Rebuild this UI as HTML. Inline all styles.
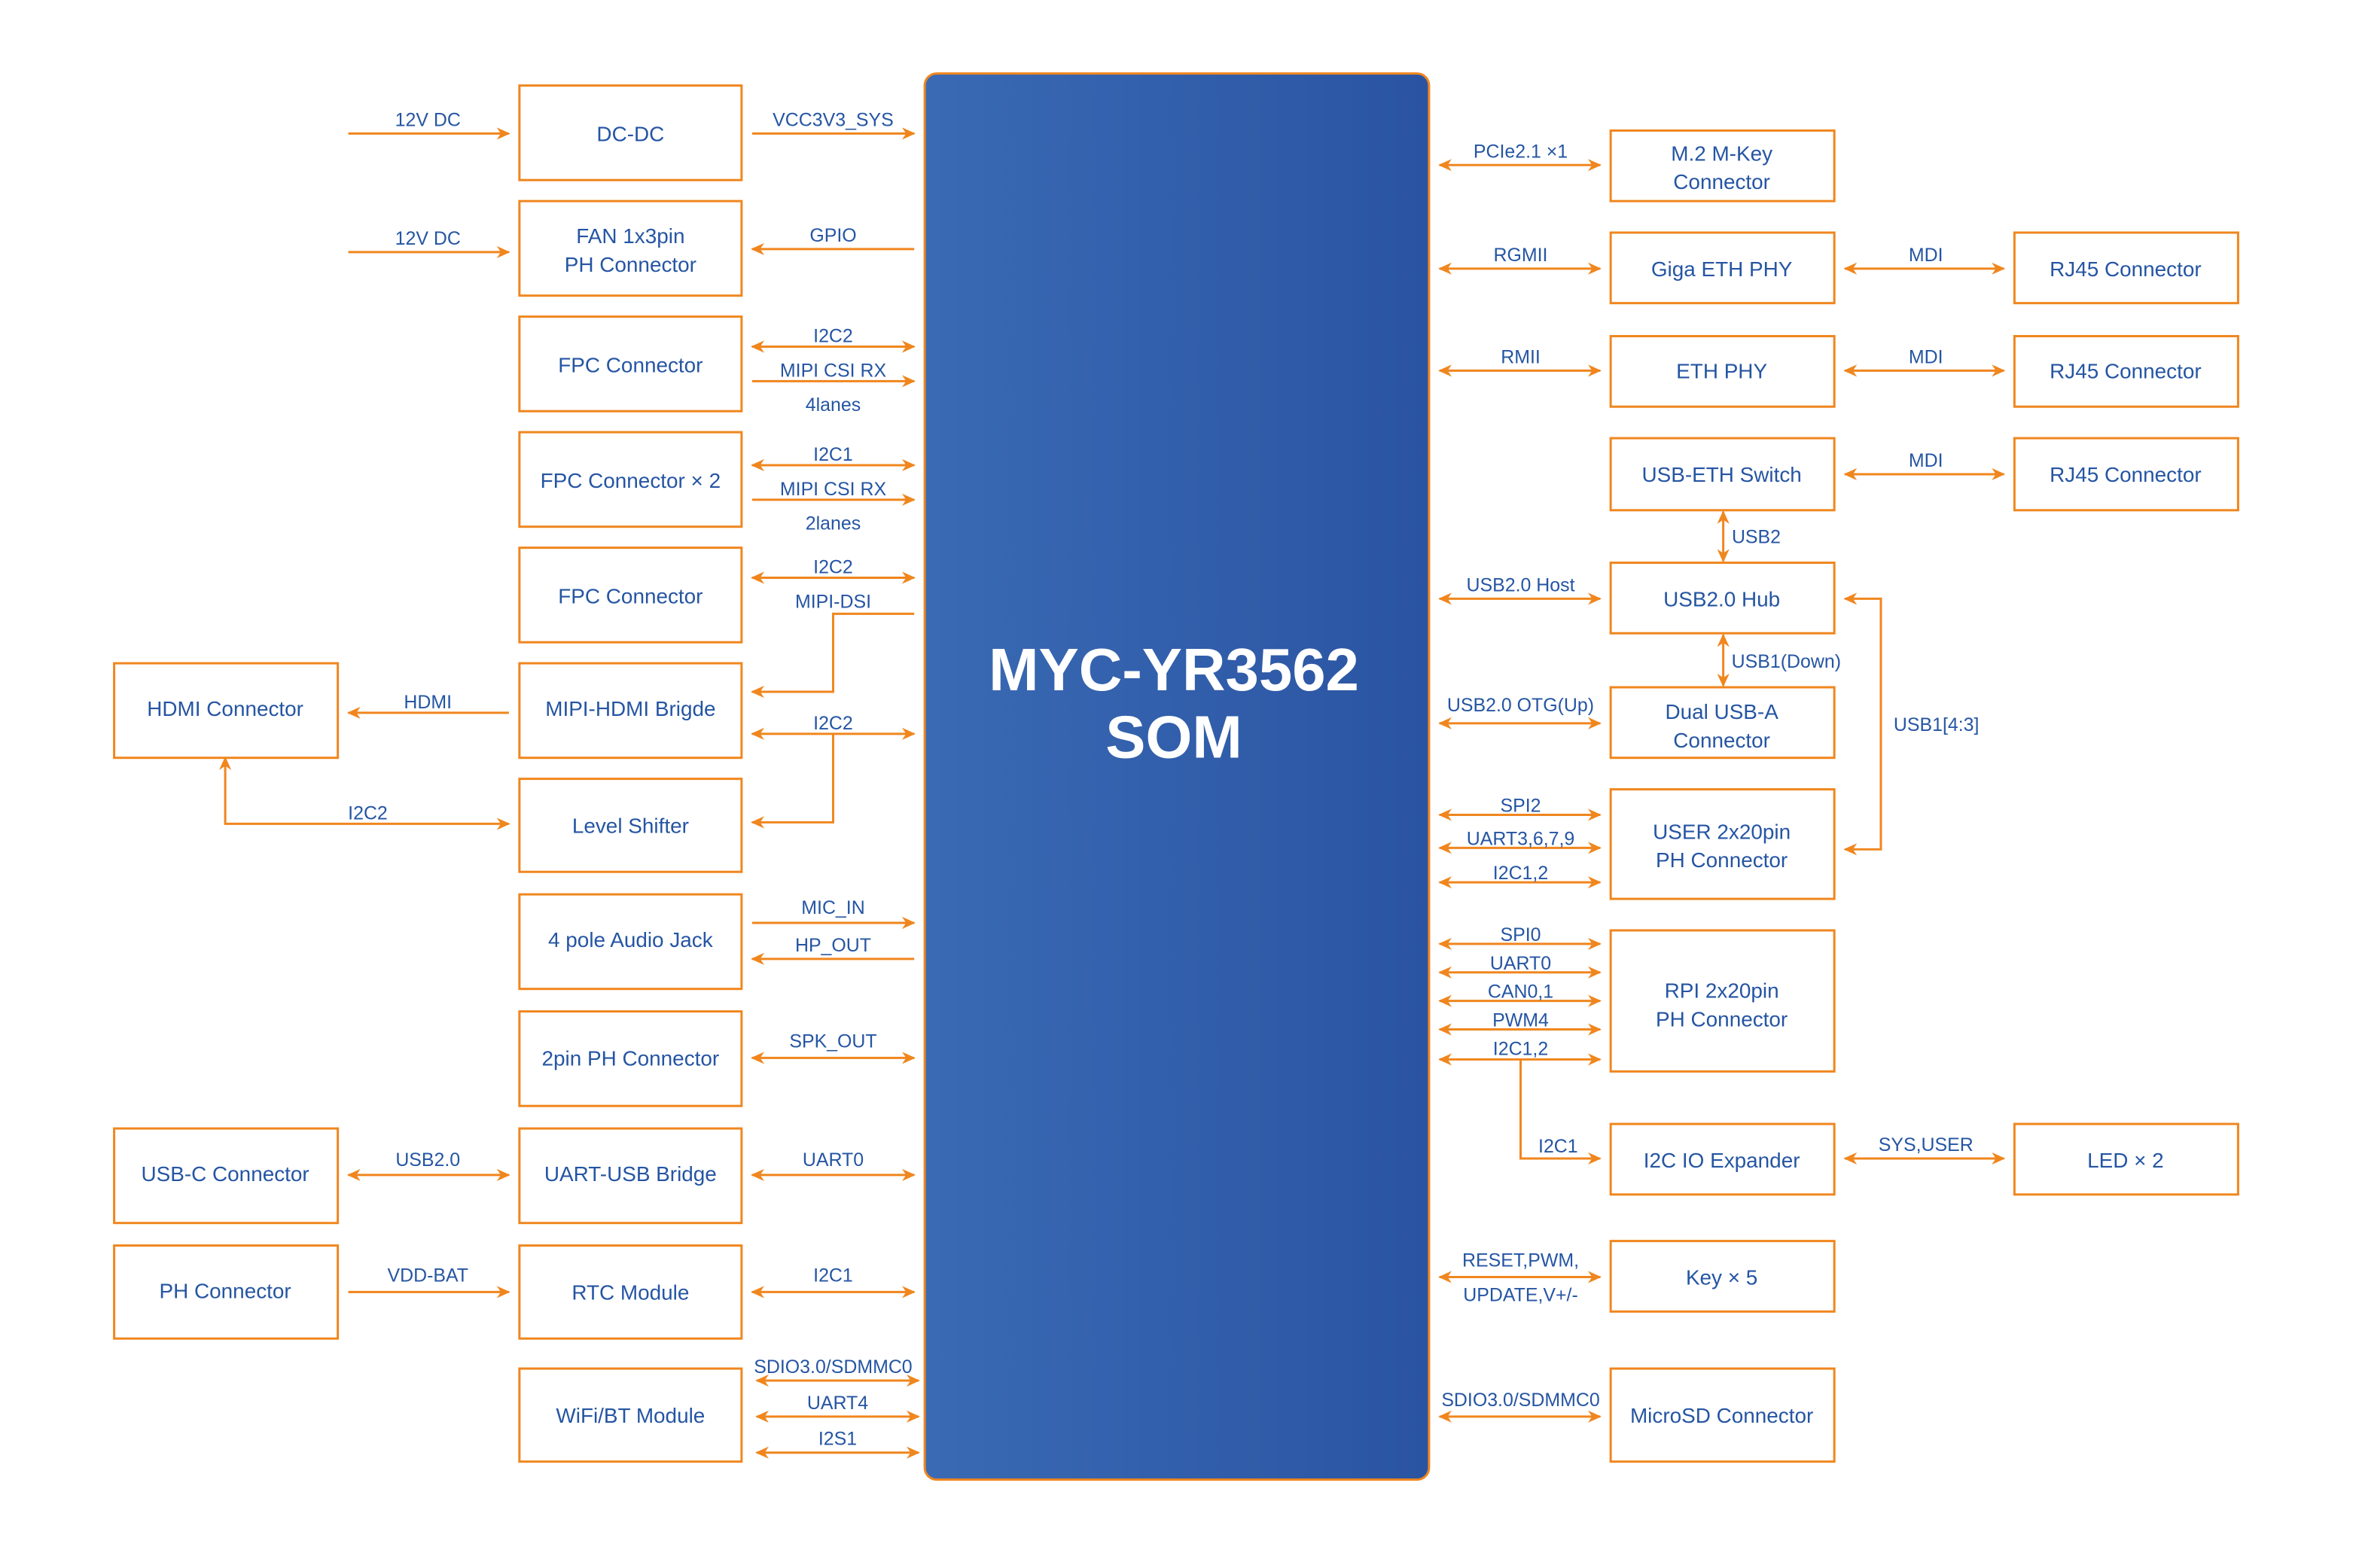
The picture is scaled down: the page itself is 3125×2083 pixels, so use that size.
<!DOCTYPE html>
<html><head><meta charset="utf-8"><style>
html,body{margin:0;padding:0;background:#fff;}
svg{display:block;}
text{font-family:"Liberation Sans",sans-serif;fill:#2555a3;text-anchor:middle;}
.l{font-size:12.5px;}
.b{font-size:14px;}
.box{fill:#fff;stroke:#f0861e;stroke-width:1.5;}
.w{stroke:#f0861e;stroke-width:1.5;fill:none;}
</style></head><body>
<svg width="3125" height="2083" viewBox="0 0 1567.5 1044.9" xmlns="http://www.w3.org/2000/svg">
<defs>
<marker id="a" viewBox="0 0 10 10" refX="9" refY="5" markerWidth="9" markerHeight="9" orient="auto-start-reverse" markerUnits="userSpaceOnUse"><path d="M0,0.5 L10,5 L0,9.5 L3,5 z" fill="#f0861e"/></marker>
<linearGradient id="g" x1="0" y1="0" x2="1" y2="0"><stop offset="0" stop-color="#3a6ab4"/><stop offset="1" stop-color="#2a54a2"/></linearGradient>
</defs>
<rect x="616" y="49" width="336" height="937" rx="8" fill="url(#g)" stroke="#f0861e" stroke-width="1.5"/>
<text x="782" y="460" style="font-size:40px;font-weight:bold;fill:#fff">MYC-YR3562</text>
<text x="782" y="505" style="font-size:40px;font-weight:bold;fill:#fff">SOM</text>

<g class="b">
<rect class="box" x="346" y="57" width="148" height="63"/><text x="420" y="94">DC-DC</text>
<rect class="box" x="346" y="134" width="148" height="63"/><text x="420" y="162">FAN 1x3pin</text><text x="420" y="181">PH Connector</text>
<rect class="box" x="346" y="211" width="148" height="63"/><text x="420" y="248">FPC Connector</text>
<rect class="box" x="346" y="288" width="148" height="63"/><text x="420" y="325">FPC Connector × 2</text>
<rect class="box" x="346" y="365" width="148" height="63"/><text x="420" y="402">FPC Connector</text>
<rect class="box" x="346" y="442" width="148" height="63"/><text x="420" y="477">MIPI-HDMI Brigde</text>
<rect class="box" x="346" y="519" width="148" height="62"/><text x="420" y="555">Level Shifter</text>
<rect class="box" x="346" y="596" width="148" height="63"/><text x="420" y="631">4 pole Audio Jack</text>
<rect class="box" x="346" y="674" width="148" height="63"/><text x="420" y="710">2pin PH Connector</text>
<rect class="box" x="346" y="752" width="148" height="63"/><text x="420" y="787">UART-USB Bridge</text>
<rect class="box" x="346" y="830" width="148" height="62"/><text x="420" y="866">RTC Module</text>
<rect class="box" x="346" y="912" width="148" height="62"/><text x="420" y="948">WiFi/BT Module</text>
<rect class="box" x="76" y="442" width="149" height="63"/><text x="150" y="477">HDMI Connector</text>
<rect class="box" x="76" y="752" width="149" height="63"/><text x="150" y="787">USB-C Connector</text>
<rect class="box" x="76" y="830" width="149" height="62"/><text x="150" y="865">PH Connector</text>
<rect class="box" x="1073" y="87" width="149" height="47"/><text x="1147" y="107">M.2 M-Key</text><text x="1147" y="126">Connector</text>
<rect class="box" x="1073" y="155" width="149" height="47"/><text x="1147" y="184">Giga ETH PHY</text>
<rect class="box" x="1073" y="224" width="149" height="47"/><text x="1147" y="252">ETH PHY</text>
<rect class="box" x="1073" y="292" width="149" height="48"/><text x="1147" y="321">USB-ETH Switch</text>
<rect class="box" x="1073" y="375" width="149" height="47"/><text x="1147" y="404">USB2.0 Hub</text>
<rect class="box" x="1073" y="458" width="149" height="47"/><text x="1147" y="479">Dual USB-A</text><text x="1147" y="498">Connector</text>
<rect class="box" x="1073" y="526" width="149" height="73"/><text x="1147" y="559">USER 2x20pin</text><text x="1147" y="578">PH Connector</text>
<rect class="box" x="1073" y="620" width="149" height="94"/><text x="1147" y="665">RPI 2x20pin</text><text x="1147" y="684">PH Connector</text>
<rect class="box" x="1073" y="749" width="149" height="47"/><text x="1147" y="778">I2C IO Expander</text>
<rect class="box" x="1073" y="827" width="149" height="47"/><text x="1147" y="856">Key × 5</text>
<rect class="box" x="1073" y="912" width="149" height="62"/><text x="1147" y="948">MicroSD Connector</text>
<rect class="box" x="1342" y="155" width="149" height="47"/><text x="1416" y="184">RJ45 Connector</text>
<rect class="box" x="1342" y="224" width="149" height="47"/><text x="1416" y="252">RJ45 Connector</text>
<rect class="box" x="1342" y="292" width="149" height="48"/><text x="1416" y="321">RJ45 Connector</text>
<rect class="box" x="1342" y="749" width="149" height="47"/><text x="1416" y="778">LED × 2</text>
</g>

<g class="w">
<path d="M232,89H339" marker-end="url(#a)"/>
<path d="M501,89H609" marker-end="url(#a)"/>
<path d="M232,168H339" marker-end="url(#a)"/>
<path d="M609,166H501" marker-end="url(#a)"/>
<path d="M501,231H609" marker-start="url(#a)" marker-end="url(#a)"/>
<path d="M501,254H609" marker-end="url(#a)"/>
<path d="M501,310H609" marker-start="url(#a)" marker-end="url(#a)"/>
<path d="M501,333H609" marker-end="url(#a)"/>
<path d="M501,385H609" marker-start="url(#a)" marker-end="url(#a)"/>
<path d="M609,409H555V461H501" marker-end="url(#a)"/>
<path d="M339,475H232" marker-end="url(#a)"/>
<path d="M501,489H609" marker-start="url(#a)" marker-end="url(#a)"/>
<path d="M555,489V548H501" marker-end="url(#a)"/>
<path d="M150,505V549H339" marker-start="url(#a)" marker-end="url(#a)"/>
<path d="M501,615H609" marker-end="url(#a)"/>
<path d="M609,639H501" marker-end="url(#a)"/>
<path d="M501,705H609" marker-start="url(#a)" marker-end="url(#a)"/>
<path d="M232,783H339" marker-start="url(#a)" marker-end="url(#a)"/>
<path d="M501,783H609" marker-start="url(#a)" marker-end="url(#a)"/>
<path d="M232,861H339" marker-end="url(#a)"/>
<path d="M501,861H609" marker-start="url(#a)" marker-end="url(#a)"/>
<path d="M504,920H612" marker-start="url(#a)" marker-end="url(#a)"/>
<path d="M504,944H612" marker-start="url(#a)" marker-end="url(#a)"/>
<path d="M504,968H612" marker-start="url(#a)" marker-end="url(#a)"/>
<path d="M959,110H1066" marker-start="url(#a)" marker-end="url(#a)"/>
<path d="M959,179H1066" marker-start="url(#a)" marker-end="url(#a)"/>
<path d="M1229,179H1335" marker-start="url(#a)" marker-end="url(#a)"/>
<path d="M959,247H1066" marker-start="url(#a)" marker-end="url(#a)"/>
<path d="M1229,247H1335" marker-start="url(#a)" marker-end="url(#a)"/>
<path d="M1229,316H1335" marker-start="url(#a)" marker-end="url(#a)"/>
<path d="M1148,341V374" marker-start="url(#a)" marker-end="url(#a)"/>
<path d="M959,399H1066" marker-start="url(#a)" marker-end="url(#a)"/>
<path d="M1148,423V457" marker-start="url(#a)" marker-end="url(#a)"/>
<path d="M959,482H1066" marker-start="url(#a)" marker-end="url(#a)"/>
<path d="M1229,399H1253V566H1229" marker-start="url(#a)" marker-end="url(#a)"/>
<path d="M959,543H1066" marker-start="url(#a)" marker-end="url(#a)"/>
<path d="M959,565H1066" marker-start="url(#a)" marker-end="url(#a)"/>
<path d="M959,588H1066" marker-start="url(#a)" marker-end="url(#a)"/>
<path d="M959,629H1066" marker-start="url(#a)" marker-end="url(#a)"/>
<path d="M959,648H1066" marker-start="url(#a)" marker-end="url(#a)"/>
<path d="M959,667H1066" marker-start="url(#a)" marker-end="url(#a)"/>
<path d="M959,686H1066" marker-start="url(#a)" marker-end="url(#a)"/>
<path d="M959,706H1066" marker-start="url(#a)" marker-end="url(#a)"/>
<path d="M1013,706V772H1066" marker-end="url(#a)"/>
<path d="M1229,772H1335" marker-start="url(#a)" marker-end="url(#a)"/>
<path d="M959,851H1066" marker-start="url(#a)" marker-end="url(#a)"/>
<path d="M959,944H1066" marker-start="url(#a)" marker-end="url(#a)"/>
</g>

<g class="l">
<text x="285" y="84">12V DC</text>
<text x="555" y="84">VCC3V3_SYS</text>
<text x="285" y="163">12V DC</text>
<text x="555" y="161">GPIO</text>
<text x="555" y="228">I2C2</text>
<text x="555" y="251">MIPI CSI RX</text>
<text x="555" y="274">4lanes</text>
<text x="555" y="307">I2C1</text>
<text x="555" y="330">MIPI CSI RX</text>
<text x="555" y="353">2lanes</text>
<text x="555" y="382">I2C2</text>
<text x="555" y="405">MIPI-DSI</text>
<text x="285" y="472">HDMI</text>
<text x="555" y="486">I2C2</text>
<text x="245" y="546">I2C2</text>
<text x="555" y="609">MIC_IN</text>
<text x="555" y="634">HP_OUT</text>
<text x="555" y="698">SPK_OUT</text>
<text x="285" y="777">USB2.0</text>
<text x="555" y="777">UART0</text>
<text x="285" y="854">VDD-BAT</text>
<text x="555" y="854">I2C1</text>
<text x="555" y="915">SDIO3.0/SDMMC0</text>
<text x="558" y="939">UART4</text>
<text x="558" y="963">I2S1</text>
<text x="1013" y="105">PCIe2.1 ×1</text>
<text x="1013" y="174">RGMII</text>
<text x="1283" y="174">MDI</text>
<text x="1013" y="242">RMII</text>
<text x="1283" y="242">MDI</text>
<text x="1283" y="311">MDI</text>
<text x="1170" y="362">USB2</text>
<text x="1013" y="394">USB2.0 Host</text>
<text x="1190" y="445">USB1(Down)</text>
<text x="1013" y="474">USB2.0 OTG(Up)</text>
<text x="1290" y="487">USB1[4:3]</text>
<text x="1013" y="541">SPI2</text>
<text x="1013" y="563">UART3,6,7,9</text>
<text x="1013" y="586">I2C1,2</text>
<text x="1013" y="627">SPI0</text>
<text x="1013" y="646">UART0</text>
<text x="1013" y="665">CAN0,1</text>
<text x="1013" y="684">PWM4</text>
<text x="1013" y="703">I2C1,2</text>
<text x="1038" y="768">I2C1</text>
<text x="1283" y="767">SYS,USER</text>
<text x="1013" y="844">RESET,PWM,</text>
<text x="1013" y="867">UPDATE,V+/-</text>
<text x="1013" y="937">SDIO3.0/SDMMC0</text>
</g>
</svg>
</body></html>
